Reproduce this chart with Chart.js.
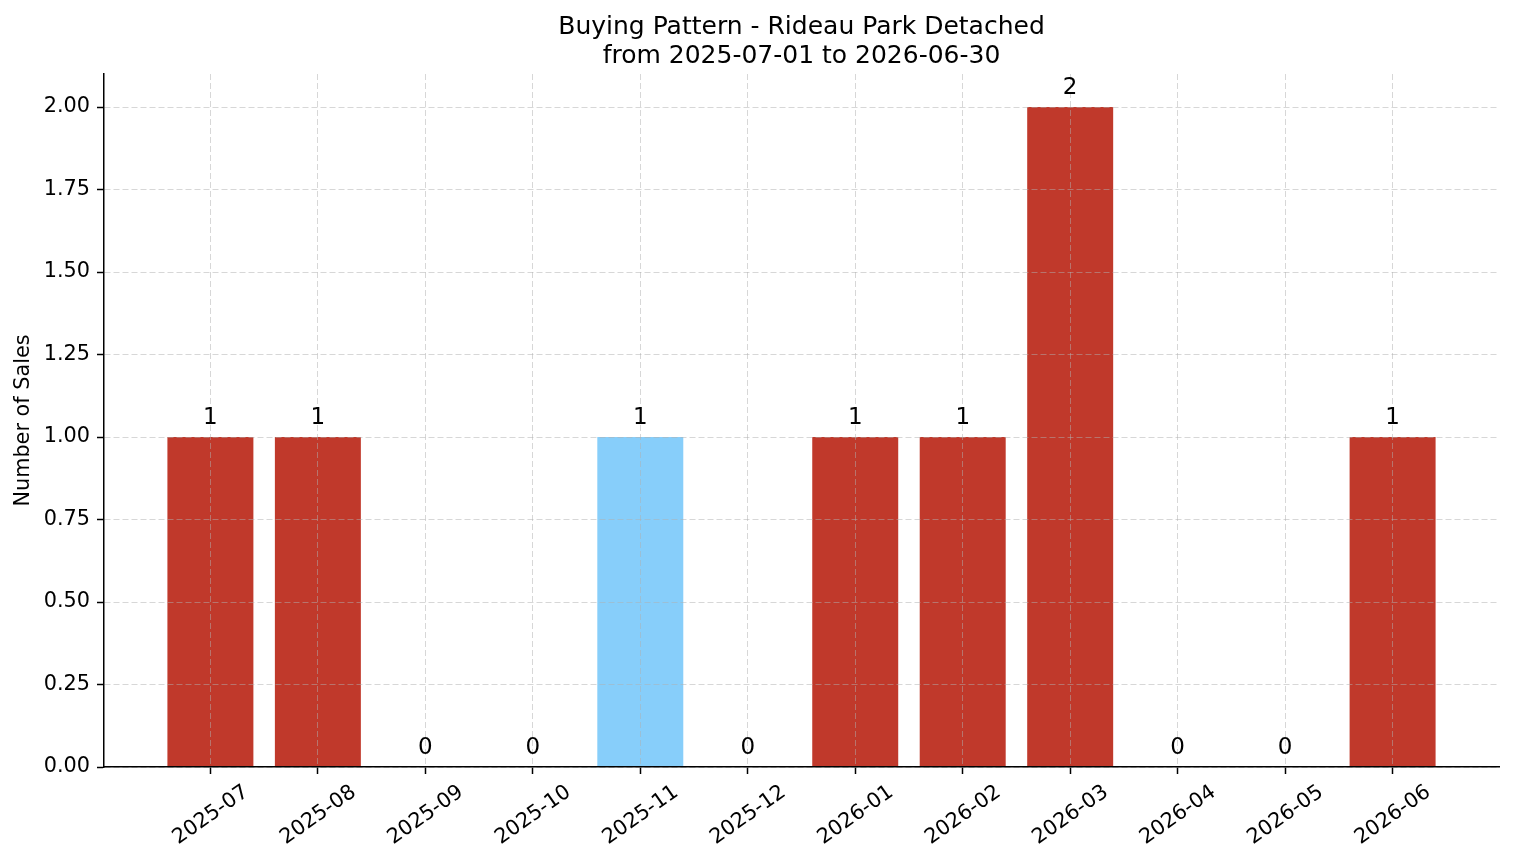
<!DOCTYPE html>
<html>
<head>
<meta charset="utf-8">
<script src="https://cdn.jsdelivr.net/npm/chart.js@4/dist/chart.umd.min.js"></script>
<style>
  html, body { margin: 0; padding: 0; background: #fff; }
  #wrap { width: 1514px; height: 863px; }
</style>
</head>
<body>
<div id="wrap"><canvas id="c" width="1514" height="863"></canvas></div>
<script>
const months = ["2025-07","2025-08","2025-09","2025-10","2025-11","2025-12","2026-01","2026-02","2026-03","2026-04","2026-05","2026-06"];
const sales = [1, 1, 0, 0, 1, 0, 1, 1, 2, 0, 0, 1];
const barColors = ["#c0392b","#c0392b","#c0392b","#c0392b","#87cefa","#c0392b","#c0392b","#c0392b","#c0392b","#c0392b","#c0392b","#c0392b"];
const yTicks = [0, 0.25, 0.5, 0.75, 1.0, 1.25, 1.5, 1.75, 2.0];
const titleLines = ["Buying Pattern - Rideau Park Detached", "from 2025-07-01 to 2026-06-30"];
const yLabel = "Number of Sales";

const FONT = "'DejaVu Sans', sans-serif";
const gridColor = "rgba(176,176,176,0.5)";

const titlePlugin = {
  id: 'mplTitle',
  afterDraw(chart) {
    const ctx = chart.ctx, a = chart.chartArea;
    ctx.save();
    ctx.fillStyle = '#000';
    ctx.font = "25px " + FONT;
    ctx.textAlign = 'center';
    ctx.textBaseline = 'alphabetic';
    const cx = (a.left + a.right) / 2;
    ctx.fillText(titleLines[0], cx, 34);
    ctx.fillText(titleLines[1], cx, 62.5);
    ctx.restore();
  }
};

const valueLabels = {
  id: 'valueLabels',
  afterDraw(chart) {
    const ctx = chart.ctx;
    const meta = chart.getDatasetMeta(0);
    const ys = chart.scales.y;
    ctx.save();
    ctx.fillStyle = '#000';
    ctx.font = "23px " + FONT;
    ctx.textAlign = 'center';
    ctx.textBaseline = 'alphabetic';
    sales.forEach((v, i) => {
      const el = meta.data[i];
      ctx.fillText(String(v), el.x, ys.getPixelForValue(v) - 13);
    });
    ctx.restore();
  }
};

new Chart(document.getElementById('c'), {
  type: 'bar',
  data: {
    datasets: [{
      data: sales.map((v, i) => ({ x: i, y: v })),
      backgroundColor: barColors,
      borderWidth: 0,
      barPercentage: 0.8,
      categoryPercentage: 1.0
    }]
  },
  options: {
    responsive: false,
    animation: false,
    devicePixelRatio: 1,
    layout: { padding: { left: 1, right: 15, top: 74, bottom: 0 } },
    plugins: { legend: { display: false }, title: { display: false }, tooltip: { enabled: false } },
    scales: {
      x: {
        type: 'linear',
        offset: false,
        min: -0.99,
        max: 11.99,
        z: 1,
        afterBuildTicks(scale) { scale.ticks = months.map((_, i) => ({ value: i })); },
        afterFit(scale) { scale.height = 96; },
        grid: {
          z: 1,
          offset: false,
          color: gridColor,
          lineWidth: 1,
          drawTicks: true,
          tickLength: 7,
          tickColor: '#000',
          tickWidth: 1.5,
          tickBorderDash: []
        },
        border: { display: true, color: '#000', width: 1.5, dash: [6, 3], z: 2 },
        ticks: {
          autoSkip: false,
          minRotation: 35,
          maxRotation: 35,
          padding: 6,
          labelOffset: 36,
          color: '#000',
          font: { family: FONT, size: 20.8 },
          callback: (v) => months[v]
        }
      },
      y: {
        type: 'linear',
        min: 0,
        max: 2.1,
        z: 1,
        afterBuildTicks(scale) { scale.ticks = yTicks.map(v => ({ value: v })); },
        afterFit(scale) { scale.width = 103; },
        grid: {
          z: 1,
          color: gridColor,
          lineWidth: 1,
          drawTicks: true,
          tickLength: 7,
          tickColor: '#000',
          tickWidth: 1.5,
          tickBorderDash: []
        },
        border: { display: true, color: '#000', width: 1.5, dash: [6, 3], z: 2 },
        ticks: {
          padding: 7,
          color: '#000',
          font: { family: FONT, size: 20.8 },
          callback: (v) => Number(v).toFixed(2)
        },
        title: {
          display: true,
          text: yLabel,
          color: '#000',
          font: { family: FONT, size: 20.8 },
          padding: { top: 10, bottom: 0 }
        }
      }
    }
  },
  plugins: [titlePlugin, valueLabels]
});
</script>
</body>
</html>
